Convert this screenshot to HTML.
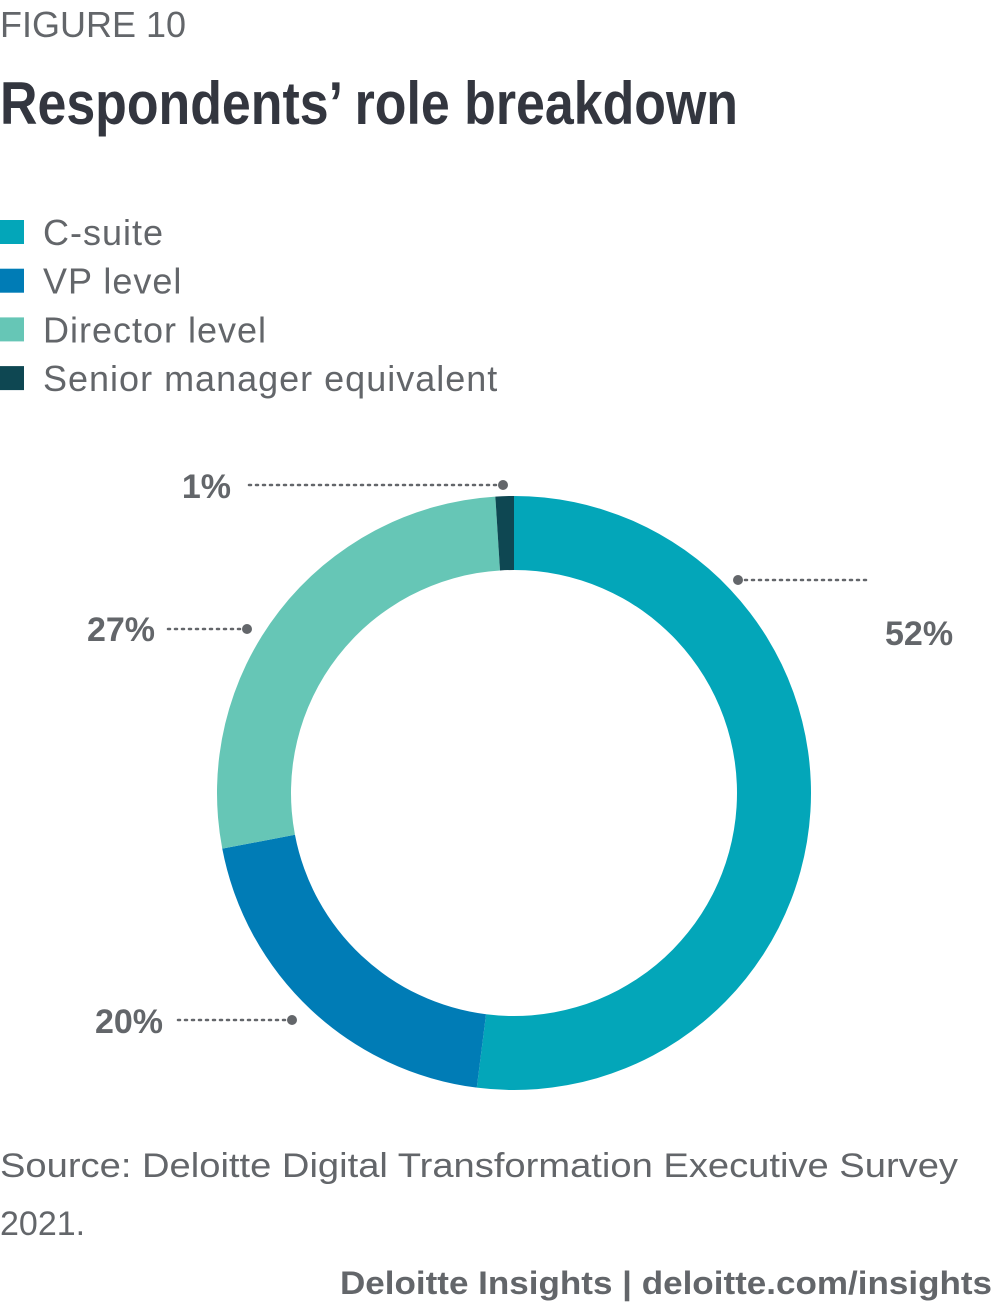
<!DOCTYPE html>
<html><head><meta charset="utf-8">
<style>
html,body{margin:0;padding:0;background:#fff;}
body{width:1000px;height:1307px;overflow:hidden;font-family:"Liberation Sans",sans-serif;}
</style></head>
<body>
<svg id="chart" width="1000" height="1307" viewBox="0 0 1000 1307" xmlns="http://www.w3.org/2000/svg" font-family="Liberation Sans, sans-serif">
  <text x="0" y="37" font-size="36" fill="#63666a" textLength="186" lengthAdjust="spacingAndGlyphs">FIGURE 10</text>
  <text x="0" y="124" font-size="60" font-weight="bold" fill="#33363f" font-family="Liberation Sans Narrow, Liberation Sans, sans-serif" textLength="738" lengthAdjust="spacingAndGlyphs">Respondents’ role breakdown</text>
  <g id="legend"></g>
  <g id="donut"></g>
  <g id="labels"></g>
  <text x="0" y="1177" font-size="34" fill="#63666a" textLength="958" lengthAdjust="spacingAndGlyphs">Source: Deloitte Digital Transformation Executive Survey</text>
  <text x="0" y="1235" font-size="34" fill="#63666a">2021.</text>
  <text x="992" y="1294" font-size="32" font-weight="bold" fill="#63666a" text-anchor="end" textLength="652" lengthAdjust="spacingAndGlyphs">Deloitte Insights | deloitte.com/insights</text>
</svg>
<script>
const categories = ["C-suite", "VP level", "Director level", "Senior manager equivalent"];
const values = [52, 20, 27, 1];
const colors = ["#03a6b9", "#007cb6", "#66c6b6", "#0e4752"];
const valueLabels = ["52%", "20%", "27%", "1%"];

const NS = "http://www.w3.org/2000/svg";
const cx = 514, cy = 793, rOut = 297, rIn = 223;
function mk(tag, attrs, parent){const e=document.createElementNS(NS,tag);for(const k in attrs)e.setAttribute(k,attrs[k]);parent.appendChild(e);return e;}
function pt(r, a){return [cx + r*Math.sin(a), cy - r*Math.cos(a)];}

const leg = document.getElementById("legend");
categories.forEach((c,i)=>{
  const y = 232 + i*48.7;
  const sq = mk("rect",{x:0,y:y-12,width:24,height:24,fill:colors[i]},leg);
  
  
  const t = mk("text",{x:43,y:y+13,"font-size":36,fill:"#63666a","letter-spacing":1},leg);
  t.textContent = c;
  
  
});

const total = values.reduce((a,b)=>a+b,0);
const donut = document.getElementById("donut");
let acc = 0;
values.forEach((v,i)=>{
  const a0 = acc/total*2*Math.PI; acc += v; const a1 = acc/total*2*Math.PI;
  const large = (a1-a0) > Math.PI ? 1 : 0;
  const p0=pt(rOut,a0), p1=pt(rOut,a1), p2=pt(rIn,a1), p3=pt(rIn,a0);
  const d = `M${p0} A${rOut},${rOut} 0 ${large} 1 ${p1} L${p2} A${rIn},${rIn} 0 ${large} 0 ${p3} Z`;
  const p = mk("path",{d:d,fill:colors[i]},donut);
  
  
});

const labels = document.getElementById("labels");
const leaders = [
  {dot:[738,580], end:[868,580], tx:885, ty:645, anchor:"start"},
  {dot:[292,1020], end:[177,1020], tx:163, ty:1033, anchor:"end"},
  {dot:[247,629], end:[167,629], tx:155, ty:641, anchor:"end"},
  {dot:[503,485], end:[246,485], tx:231, ty:498, anchor:"end"}
];
values.forEach((v,i)=>{
  const L = leaders[i];
  const ln = mk("line",{x1:L.dot[0],y1:L.dot[1],x2:L.end[0],y2:L.end[1],stroke:"#63666a","stroke-width":2.5,"stroke-dasharray":"2 5","stroke-linecap":"round"},labels);
  
  
  const c = mk("circle",{cx:L.dot[0],cy:L.dot[1],r:5,fill:"#63666a"},labels);
  
  
  const t = mk("text",{x:L.tx,y:L.ty,"font-size":34,"font-weight":"bold",fill:"#63666a","text-anchor":L.anchor,"font-family":"Liberation Sans Narrow, Liberation Sans, sans-serif"},labels);
  t.textContent = valueLabels[i];
  
  
});
</script>
</body></html>
